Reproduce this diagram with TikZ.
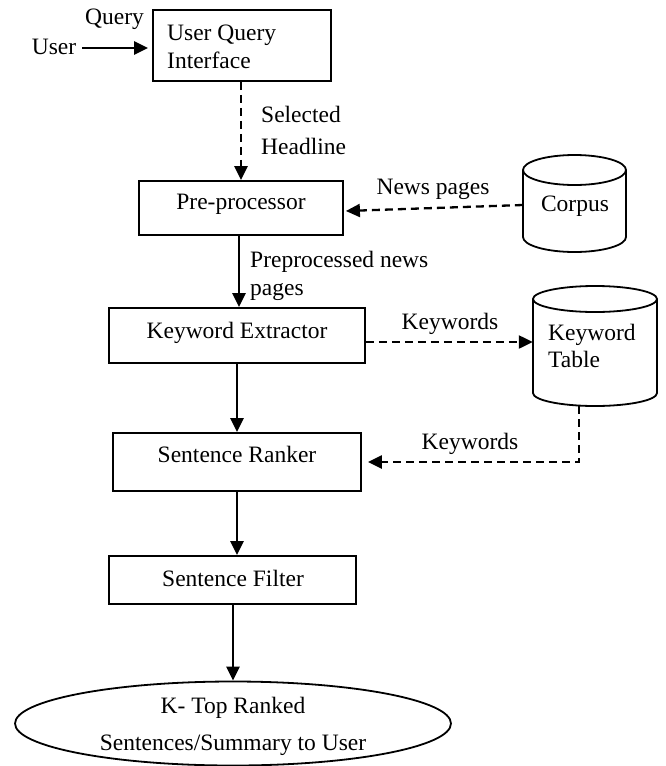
\documentclass[tikz,border=0pt]{standalone}
\usepackage{fontspec}
\setmainfont{Liberation Serif}
\usetikzlibrary{arrows.meta,shapes.geometric}
\tikzset{
  txt/.style={font=\fontsize{23.5}{28}\selectfont, inner sep=0pt},
  stxt/.style={txt, text height=16pt, text depth=5.2pt},
  boxnode/.style={draw, line width=1.8pt, inner sep=0pt},
  ghost/.style={inner sep=0pt},
  conn/.style={line width=2.3pt, -{Triangle[length=14pt,width=13pt]}},
  dconn/.style={conn, dash pattern=on 8pt off 5pt},
  cyl/.style={line width=1.8pt}
}
\begin{document}
\begin{tikzpicture}[x=1pt,y=-1pt]
\useasboundingbox (0,0) rectangle (666,766);

% boxes
\node[boxnode, minimum width=178pt, minimum height=71pt] (uqi) at (242,45.5) {};
\node[txt, anchor=west, align=left] (uqit) at (167,47) {User Query\\Interface};
\node[boxnode, minimum width=204pt, minimum height=54pt] (pre) at (241,208) {};
\node[stxt] (pret) at (241,204) {Pre-processor};
\node[boxnode, minimum width=256pt, minimum height=55pt] (ke) at (237,335.5) {};
\node[stxt] (ket) at (237,333) {Keyword Extractor};
\node[boxnode, minimum width=248pt, minimum height=58pt] (sr) at (237,462) {};
\node[stxt] (srt) at (237,457) {Sentence Ranker};
\node[boxnode, minimum width=247pt, minimum height=48pt] (sf) at (232.5,580) {};
\node[stxt] (sft) at (233,581) {Sentence Filter};
\node[boxnode, ellipse, minimum width=436pt, minimum height=84pt] (out) at (233,723.5) {};
\node[txt, align=center, font=\fontsize{23.5}{37}\selectfont] (outt) at (233,726) {K- Top Ranked\\Sentences/Summary to User};

% corpus cylinder
\node[ghost, minimum width=103pt, minimum height=97pt] (corpus) at (574.5,203.5) {};
\draw[cyl] (574.5,170) ellipse[x radius=51.5pt, y radius=15pt];
\draw[cyl] (523,170) -- (523,237) arc[start angle=180, end angle=360, x radius=51.5pt, y radius=15pt] -- (626,170);
\node[stxt] (corpust) at (575,206) {Corpus};

% keyword table cylinder
\node[ghost, minimum width=124pt, minimum height=120pt] (kt) at (595,346) {};
\draw[cyl] (595,299) ellipse[x radius=62pt, y radius=13pt];
\draw[cyl] (533,299) -- (533,393) arc[start angle=180, end angle=360, x radius=62pt, y radius=13pt] -- (657,299);
\node[txt, anchor=west, align=left, font=\fontsize{23.5}{26.5}\selectfont] (ktt) at (548,346) {Keyword\\Table};

% user input
\node[stxt] (user) at (54,49) {User};
\node[stxt] (query) at (114.5,19) {Query};
\draw[conn, shorten <=6pt, shorten >=4pt] (user.east |- 0,48) -- (uqi.west |- 0,48);

% connectors
\draw[dconn] (uqi.south -| 241,0) -- (pre.north -| 241,0);
\node[txt, anchor=west, align=left, font=\fontsize{23.5}{32}\selectfont] (sel) at (261,130) {Selected\\Headline};

\draw[dconn] (corpus.west |- 0,205) -- ([xshift=2pt]pre.east |- 0,211);
\node[stxt] (newsl) at (433,189) {News pages};

\draw[conn] (pre.south -| 239,0) -- (ke.north -| 239,0);
\node[txt, anchor=west, align=left, font=\fontsize{23.5}{28.5}\selectfont] (ppl) at (250,276) {Preprocessed news\\pages};

\draw[dconn] (ke.east |- 0,342) -- (kt.west |- 0,342);
\node[stxt] (kw1) at (450,324) {Keywords};

\draw[conn] (ke.south) -- (sr.north);

\draw[dconn, shorten >=6pt] (kt.south -| 579,0) |- (sr.east);
\node[stxt] (kw2) at (470,444) {Keywords};

\draw[conn] (sr.south) -- (sr.south |- sf.north);
\draw[conn] (sf.south -| 233,0) -- (out.north);
\end{tikzpicture}
\end{document}
